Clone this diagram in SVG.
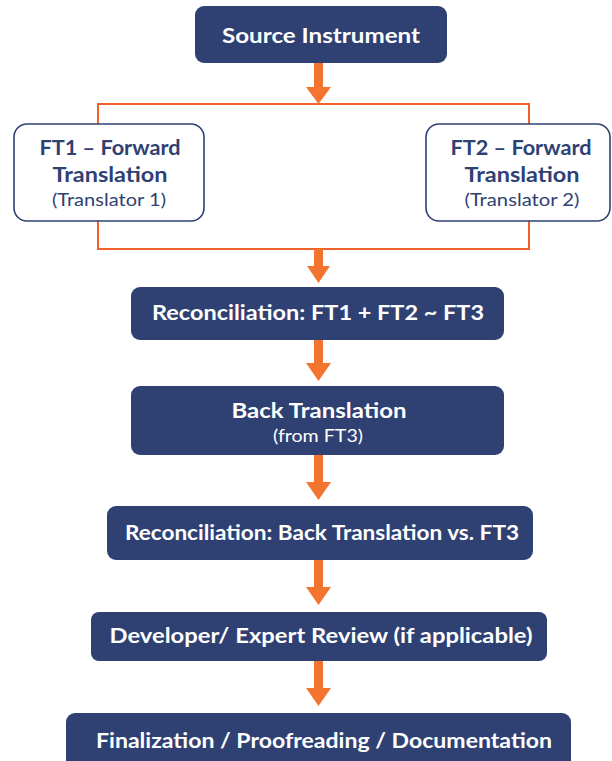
<svg xmlns="http://www.w3.org/2000/svg" width="612" height="761" viewBox="0 0 612 761">
<defs>
<style>
.dark{fill:#2F4173;}
.light{fill:#FFFFFF;stroke:#2F4173;stroke-width:1.6;}
.t{font-family:Lato,"Open Sans","Liberation Sans",sans-serif;font-weight:700;text-anchor:middle;font-size:21px;}
.w{fill:#FFFFFF;}
.n{fill:#2F4173;}
.sub{font-weight:400;font-size:17px;}
.ln{fill:none;stroke:#F0622A;stroke-width:2;}
.arr{fill:#F2742F;}
</style>
</defs>
<rect width="612" height="761" fill="#FFFFFF"/>
<g id="connectors">
<path class="ln" d="M98,124 V104 H529 V124"/>
<path class="ln" d="M98,221 V249 H529 V221"/>
<path class="arr" d="M314,63 H323 V87 H331 L318.5,104 L306,87 H314 Z"/>
<path class="arr" d="M314,249 H323 V266 H330 L318.5,283 L307,266 H314 Z"/>
<path class="arr" d="M314,340 H323 V363 H331 L318.5,381 L306,363 H314 Z"/>
<path class="arr" d="M314,455 H323 V482 H331 L318.5,500 L306,482 H314 Z"/>
<path class="arr" d="M314,560 H323 V587 H331 L318.5,605 L306,587 H314 Z"/>
<path class="arr" d="M314,661 H323 V688 H331 L318.5,706 L306,688 H314 Z"/>
</g>
<g id="source">
<rect class="dark" x="195" y="6" width="252" height="57" rx="9"/>
<text class="t w" x="321" y="43" textLength="198" lengthAdjust="spacingAndGlyphs">Source Instrument</text>
</g>
<g id="ft1">
<rect class="light" x="14" y="124" width="190" height="97" rx="13"/>
<text class="t n" x="110" y="155" textLength="141" lengthAdjust="spacingAndGlyphs">FT1 – Forward</text>
<text class="t n" x="110" y="182" textLength="115" lengthAdjust="spacingAndGlyphs">Translation</text>
<text class="t n sub" x="109" y="206" textLength="114" lengthAdjust="spacingAndGlyphs">(Translator 1)</text>
</g>
<g id="ft2">
<rect class="light" x="426" y="124" width="184" height="97" rx="13"/>
<text class="t n" x="521" y="155" textLength="141" lengthAdjust="spacingAndGlyphs">FT2 – Forward</text>
<text class="t n" x="522" y="182" textLength="115" lengthAdjust="spacingAndGlyphs">Translation</text>
<text class="t n sub" x="522" y="206" textLength="115" lengthAdjust="spacingAndGlyphs">(Translator 2)</text>
</g>
<g id="recon1">
<rect class="dark" x="131" y="287" width="373" height="53" rx="9"/>
<text class="t w" x="318" y="320" textLength="332" lengthAdjust="spacingAndGlyphs">Reconciliation: FT1 + FT2 ~ FT3</text>
</g>
<g id="back">
<rect class="dark" x="131" y="386" width="373" height="69" rx="9"/>
<text class="t w" x="319" y="418" textLength="175" lengthAdjust="spacingAndGlyphs">Back Translation</text>
<text class="t w sub" x="318" y="442" textLength="90" lengthAdjust="spacingAndGlyphs">(from FT3)</text>
</g>
<g id="recon2">
<rect class="dark" x="107" y="506" width="426" height="54" rx="9"/>
<text class="t w" x="322" y="540" textLength="394" lengthAdjust="spacingAndGlyphs">Reconciliation: Back Translation vs. FT3</text>
</g>
<g id="review">
<rect class="dark" x="91" y="612" width="456" height="49" rx="8"/>
<text class="t w" x="321" y="643" textLength="423" lengthAdjust="spacingAndGlyphs">Developer/ Expert Review (if applicable)</text>
</g>
<g id="final">
<rect class="dark" x="66" y="713" width="505" height="60" rx="9"/>
<text class="t w" x="324" y="748" textLength="456" lengthAdjust="spacingAndGlyphs">Finalization / Proofreading / Documentation</text>
</g>
</svg>
